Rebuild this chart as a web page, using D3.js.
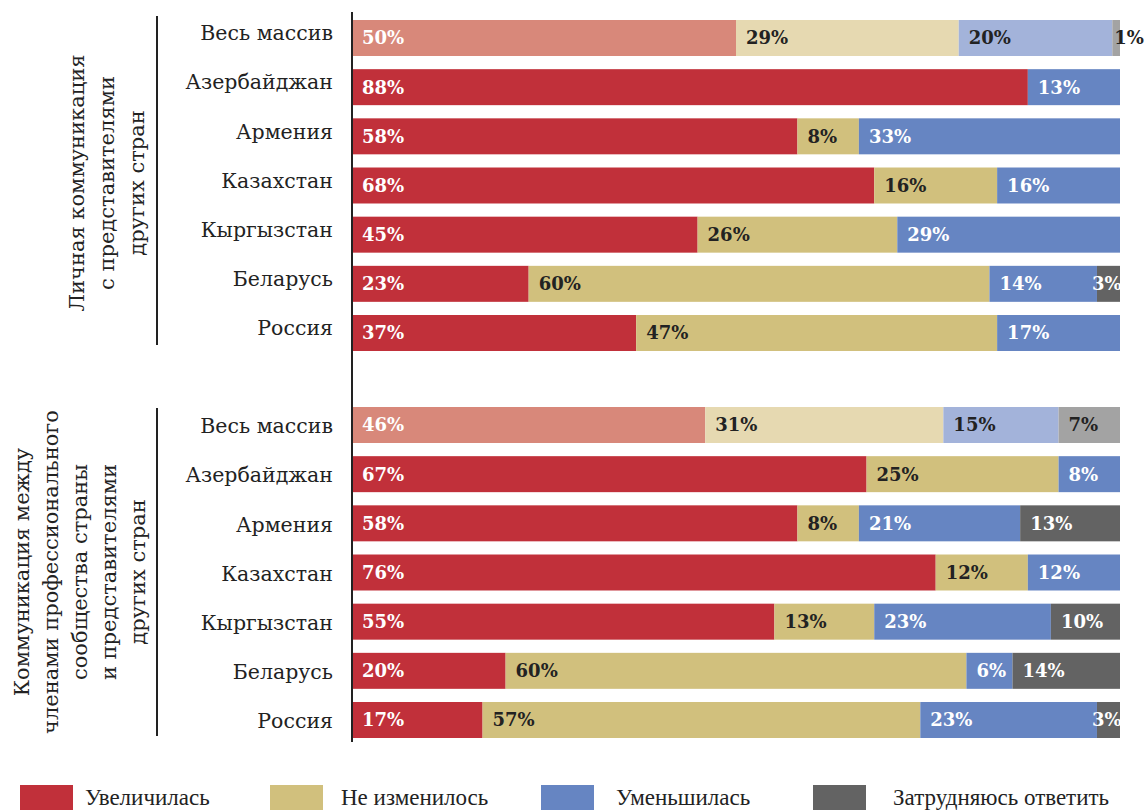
<!DOCTYPE html>
<html><head><meta charset="utf-8">
<script src="https://cdn.jsdelivr.net/npm/d3@7"></script>
<style>body{margin:0;background:#fff}svg{display:block}</style>
</head><body>
<svg id="c" width="1146" height="810"></svg>
<script>
const categories = ["Весь массив","Азербайджан","Армения","Казахстан","Кыргызстан","Беларусь","Россия"];
const seriesNames = ["Увеличилась","Не изменилось","Уменьшилась","Затрудняюсь ответить"];
const increased1 = [50,88,58,68,45,23,37];
const unchanged1 = [29,0,8,16,26,60,47];
const decreased1 = [20,13,33,16,29,14,17];
const hard1      = [1,0,0,0,0,3,0];
const increased2 = [46,67,58,76,55,20,17];
const unchanged2 = [31,25,8,12,13,60,57];
const decreased2 = [15,8,21,12,23,6,23];
const hard2      = [7,0,13,0,10,14,3];
const groupTitle1 = ["Личная коммуникация","с представителями","других стран"];
const groupTitle2 = ["Коммуникация между","членами профессионального","сообщества страны","и представителями","других стран"];

const colors = ["#c1303a","#d1c07d","#6685c2","#636363"];
const lightColors = ["#d8887a","#e6d9b1","#a3b3da","#a3a3a3"];
const FONT = "'DejaVu Serif', serif";

const svg = d3.select("#c");
const x = d3.scaleLinear().domain([0,100]).range([352,1120]).clamp(true);

const groups = [
  {series:[increased1,unchanged1,decreased1,hard1], range:[20,351], title:groupTitle1, bracket:[16,345], tx:[77,107,137], ty:183, shift:-5},
  {series:[increased2,unchanged2,decreased2,hard2], range:[407,738], title:groupTitle2, bracket:[408,736], tx:[22,51,80,109,138], ty:572, shift:1}
];

groups.forEach(g=>{
  const y = d3.scaleBand().domain(categories).range(g.range).paddingInner(0.268).paddingOuter(0);
  svg.append("g").selectAll("text").data(categories).join("text")
    .attr("x",333).attr("y",d=>y(d)+y.bandwidth()/2+g.shift).attr("dy","0.35em")
    .attr("text-anchor","end").attr("font-family",FONT).attr("font-size",20.5).attr("fill","#222")
    .text(d=>d);
  categories.forEach((cat,i)=>{
    const vals = g.series.map(s=>s[i]);
    let lastK = -1; vals.forEach((v,k)=>{ if(v>0) lastK=k; });
    let cum = 0;
    vals.forEach((v,k)=>{
      if(v<=0) return;
      const x0 = x(cum);
      const x1 = k===lastK ? x(100) : x(cum+v);
      cum += v;
      const light = i===0;
      svg.append("rect").attr("x",x0).attr("y",y(cat)).attr("width",Math.max(0,x1-x0)).attr("height",y.bandwidth())
        .attr("fill",light?lightColors[k]:colors[k]);
      const w = x1-x0;
      let lx = x0+10;
      if(w<30) lx = w<15 ? x0+2 : x0-5;
      let fill;
      if(light) fill = k===0 ? "#fff" : "#222";
      else fill = k===1 ? "#222" : "#fff";
      svg.append("text").attr("x",lx).attr("y",y(cat)+y.bandwidth()/2).attr("dy","0.36em")
        .attr("font-family",FONT).attr("font-weight","bold").attr("font-size",18).attr("fill",fill)
        .text(v+"%");
    });
  });
  svg.append("line").attr("x1",157).attr("x2",157).attr("y1",g.bracket[0]).attr("y2",g.bracket[1])
    .attr("stroke","#222").attr("stroke-width",2);
  g.title.forEach((t,j)=>{
    svg.append("text").attr("transform",`translate(${g.tx[j]},${g.ty}) rotate(-90)`)
      .attr("text-anchor","middle").attr("dy","0.35em")
      .attr("font-family",FONT).attr("font-size",21).attr("fill","#222").text(t);
  });
});

svg.append("line").attr("x1",352).attr("x2",352).attr("y1",12).attr("y2",742)
  .attr("stroke","#222").attr("stroke-width",2);

const legX = [20,270,541,813];
const legTextX = [85,341,616,893];
seriesNames.forEach((n,k)=>{
  svg.append("rect").attr("x",legX[k]).attr("y",785).attr("width",53).attr("height",28).attr("fill",colors[k]);
  svg.append("text").attr("x",legTextX[k]).attr("y",805)
    .attr("font-family","'Liberation Serif', serif").attr("font-size",23).attr("fill","#222").text(n);
});
</script>
</body></html>
